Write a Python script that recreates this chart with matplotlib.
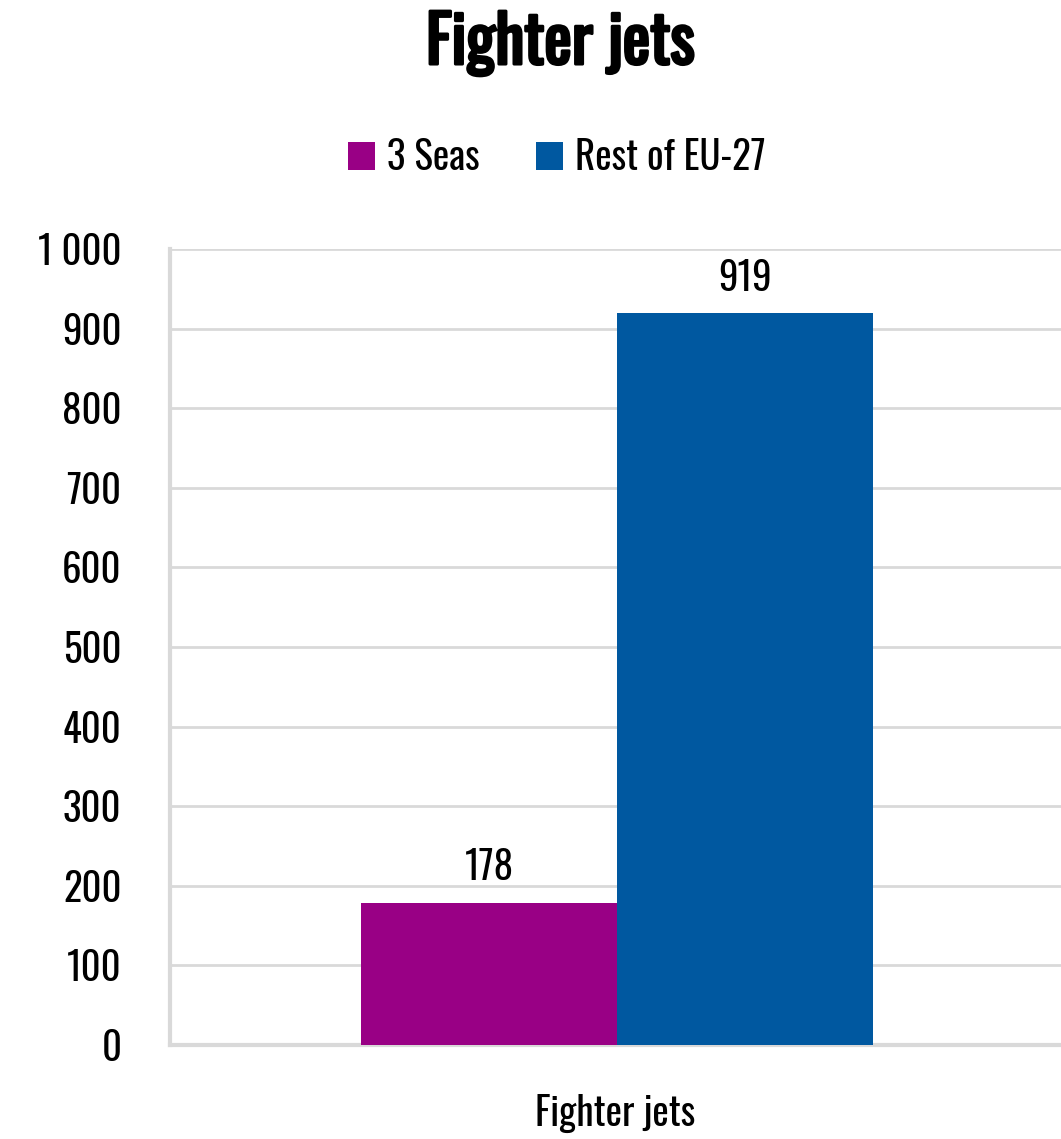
import matplotlib.pyplot as plt
import matplotlib.patheffects as pe
import numpy as np

# Data
categories = ['Fighter jets']
series_names = ['3 Seas', 'Rest of EU-27']
series_values = [[178], [919]]
colors = ['#990085', '#0058A0']
yticks = [0, 100, 200, 300, 400, 500, 600, 700, 800, 900, 1000]
ytick_labels = ['0', '100', '200', '300', '400', '500', '600', '700', '800', '900', '1 000']

plt.rcParams['font.family'] = ['Oswald', 'DejaVu Sans']
fs = 28

fig = plt.figure(figsize=(10.61, 11.39), dpi=100)
ax = fig.add_axes([170 / 1061, 1 - 1045 / 1139, (1061 - 170) / 1061, (1045 - 249) / 1139])

x = np.arange(len(categories))
width = 0.2873
for i, (name, vals) in enumerate(zip(series_names, series_values)):
    pos = x + 0.0022 + (i - 0.5) * width
    bars = ax.bar(pos, vals, width, color=colors[i], label=name, zorder=3)
    for b, v in zip(bars, vals):
        ax.text(b.get_x() + b.get_width() / 2, v + 20, f'{v}', ha='center', va='bottom', fontsize=fs)

ax.set_xlim(-0.5, 0.5)
ax.set_ylim(0, 1000)
ax.set_yticks(yticks)
ax.set_yticklabels(ytick_labels, fontsize=fs)
ax.set_xticks(x)
ax.set_xticklabels(categories, fontsize=fs)
ax.tick_params(length=0)
ax.tick_params(axis='y', pad=35)
ax.tick_params(axis='x', pad=35)
ax.yaxis.grid(True, color='#d9d9d9', linewidth=2, zorder=0)
for s in ['top', 'right']:
    ax.spines[s].set_visible(False)
for s in ['left', 'bottom']:
    ax.spines[s].set_color('#d9d9d9')
    ax.spines[s].set_linewidth(3)

fig.text(0.528, 1 - 44 / 1139, 'Fighter jets', ha='center', va='center', fontsize=47,
         path_effects=[pe.withStroke(linewidth=2.2, foreground='black')])
fig.legend(loc='center', bbox_to_anchor=(0.5245, 1 - 157 / 1139), ncol=2, frameon=False,
           fontsize=fs, handlelength=0.7, handleheight=0.7,
           handletextpad=0.3, columnspacing=1.45)

plt.savefig('out.png', dpi=100)
